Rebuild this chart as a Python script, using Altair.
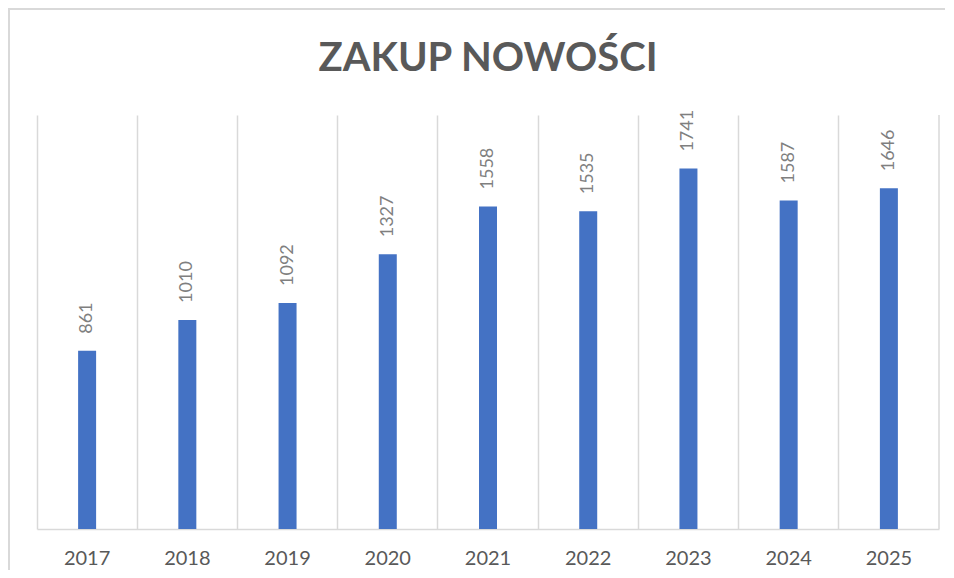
import altair as alt
import pandas as pd

title_text = "ZAKUP NOWOŚCI"
years = ["2017", "2018", "2019", "2020", "2021", "2022", "2023", "2024", "2025"]
values = [861, 1010, 1092, 1327, 1558, 1535, 1741, 1587, 1646]

df = pd.DataFrame({"year": years, "value": values})
one = pd.DataFrame({"k": [0]})
W, H = 902, 414
GRID = "#d9d9d9"

base = alt.Chart(df).encode(
    x=alt.X(
        "year:N",
        sort=years,
        scale=alt.Scale(paddingInner=0, paddingOuter=0),
        axis=alt.Axis(
            title=None, grid=True, bandPosition=0, gridColor=GRID, gridWidth=1.5,
            domainColor=GRID, domainWidth=1.5, ticks=False, tickSize=0,
            labelAngle=0, labelFont="Lato", labelFontSize=20, labelColor="#595959",
            labelBaseline="alphabetic", labelPadding=35,
        ),
    ),
    y=alt.Y("value:Q", scale=alt.Scale(domain=[0, 2000]), axis=None),
)

bars = base.mark_bar(size=18, color="#4472C4")
labels = base.mark_text(
    angle=270, align="left", baseline="middle", dx=17,
    font="Lato", fontSize=18, color="#7f7f7f",
).encode(text="value:Q")

right_grid = alt.Chart(one).mark_rule(color=GRID, strokeWidth=1.5).encode(
    x=alt.value(W), y=alt.value(0), y2=alt.value(H)
)
top_border = alt.Chart(one).mark_rule(color=GRID, strokeWidth=2).encode(
    x=alt.value(-29), x2=alt.value(W + 6), y=alt.value(-106)
)
left_border = alt.Chart(one).mark_rule(color=GRID, strokeWidth=2).encode(
    x=alt.value(-28), y=alt.value(-106), y2=alt.value(H + 41)
)
title = alt.Chart(pd.DataFrame({"t": [title_text]})).mark_text(
    font="Lato", fontSize=40, fontWeight="bold", color="#595959",
    align="center", baseline="alphabetic",
).encode(text="t:N", x=alt.value(W / 2), y=alt.value(-44))

chart = alt.layer(bars, labels, right_grid, top_border, left_border, title).properties(
    width=W, height=H,
    autosize=alt.AutoSizeParams(type="none"),
    padding={"left": 29, "top": 107, "right": 6, "bottom": 41},
).configure_view(stroke=None)

chart.save("out.html", embed_options={"renderer": "svg", "actions": False})
